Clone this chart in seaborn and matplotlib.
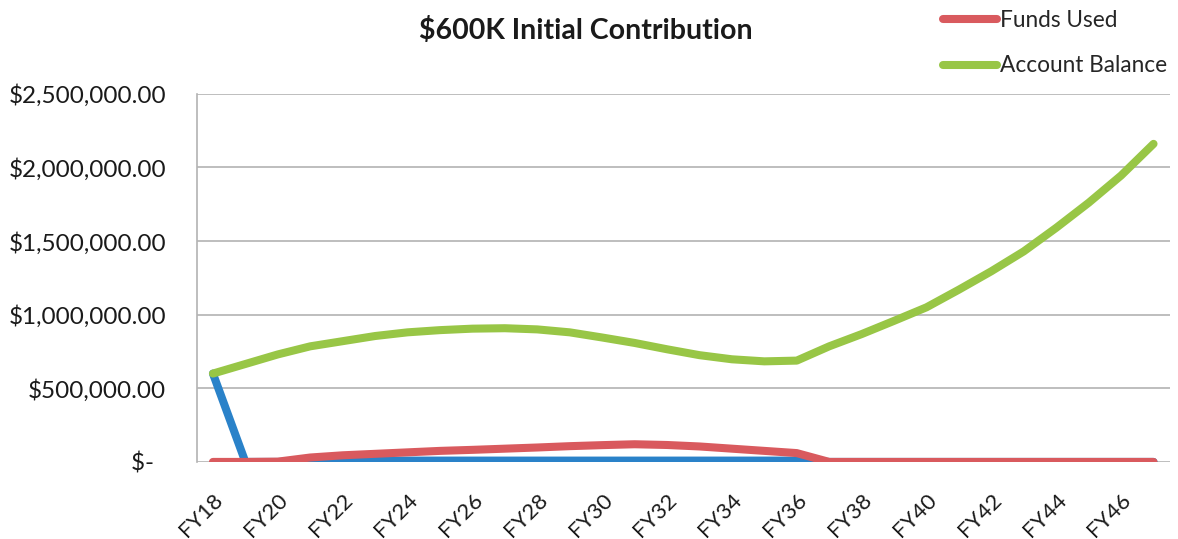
import matplotlib
matplotlib.use("Agg")
import matplotlib.pyplot as plt
import seaborn as sns
import pandas as pd
from matplotlib.lines import Line2D

years = ["FY18", "FY19", "FY20", "FY21", "FY22", "FY23", "FY24", "FY25", "FY26", "FY27",
         "FY28", "FY29", "FY30", "FY31", "FY32", "FY33", "FY34", "FY35", "FY36", "FY37",
         "FY38", "FY39", "FY40", "FY41", "FY42", "FY43", "FY44", "FY45", "FY46", "FY47"]

contributions = [600000, 0, 0, 5000, 9000, 9000, 9000, 9000, 9000, 9000,
                 9000, 9000, 9000, 9000, 9000, 9000, 9000, 9000, 9000, 0,
                 0, 0, 0, 0, 0, 0, 0, 0, 0, 0]

funds_used = [0, 0, 2000, 30000, 45000, 55000, 65000, 75000, 82000, 90000,
              98000, 107000, 114000, 120000, 115000, 105000, 90000, 75000, 60000, 0,
              0, 0, 0, 0, 0, 0, 0, 0, 0, 0]

account_balance = [600000, 665000, 730000, 785000, 820000, 855000, 880000, 895000, 905000, 908000,
                   900000, 880000, 845000, 808000, 765000, 725000, 697000, 683000, 688000, 785000,
                   868000, 958000, 1050000, 1170000, 1295000, 1430000, 1590000, 1760000, 1945000, 2160000]

series_names = ["Contributions", "Funds Used", "Account Balance"]
colors = ["#2a82c9", "#d95a5e", "#98c646"]
y_ticks = [0, 500000, 1000000, 1500000, 2000000, 2500000]
y_tick_labels = ["$-  ", "$500,000.00", "$1,000,000.00", "$1,500,000.00",
                 "$2,000,000.00", "$2,500,000.00"]

rows = []
for name, vals in zip(series_names, [contributions, funds_used, account_balance]):
    for i, (yr, v) in enumerate(zip(years, vals)):
        rows.append({"idx": i, "year": yr, "value": v, "series": name})
df = pd.DataFrame(rows)

sns.set_theme(style="white")
plt.rcParams["font.family"] = ["Lato", "DejaVu Sans"]

fig = plt.figure(figsize=(11.78, 5.39), dpi=100)
ax = fig.add_axes([0.167, 0.143, 0.826, 0.683])

sns.lineplot(data=df, x="idx", y="value", hue="series", hue_order=series_names,
             palette=colors, linewidth=5.8, ax=ax, legend=False, sort=False,
             solid_capstyle="round", solid_joinstyle="round")

ax.set_xlim(-0.5, len(years) - 0.5)
ax.set_ylim(0, 2500000)
ax.set_yticks(y_ticks)
ax.set_yticklabels(y_tick_labels, fontsize=17.5, color="#1a1a1a")
even_idx = list(range(0, len(years), 2))
ax.set_xticks(even_idx)
ax.set_xticklabels([years[i] for i in even_idx], rotation=45, ha="right",
                   rotation_mode="anchor", fontsize=16, color="#1a1a1a")
ax.tick_params(axis="y", length=0, pad=22)
ax.tick_params(axis="x", length=0, pad=20)
ax.set_xlabel("")
ax.set_ylabel("")

ax.yaxis.grid(True, color="#b3b3b3", linewidth=1.2)
ax.set_axisbelow(True)
for s in ["top", "right", "bottom"]:
    ax.spines[s].set_visible(False)
ax.spines["left"].set_color("#b3b3b3")
ax.spines["left"].set_linewidth(1.2)

fig.text(0.497, 0.943, "$600K Initial Contribution", ha="center", va="center",
         fontsize=20.5, fontweight="bold", color="#1a1a1a")

handles = [Line2D([0], [0], color=colors[1], linewidth=5.8, solid_capstyle="round"),
           Line2D([0], [0], color=colors[2], linewidth=5.8, solid_capstyle="round")]
fig.legend(handles, ["Funds Used", "Account Balance"], loc="upper left",
           bbox_to_anchor=(0.783, 1.02), frameon=False, fontsize=16.3,
           handlelength=2.4, handletextpad=0.12, labelspacing=1.1)

fig.savefig("out.png", dpi=100)
